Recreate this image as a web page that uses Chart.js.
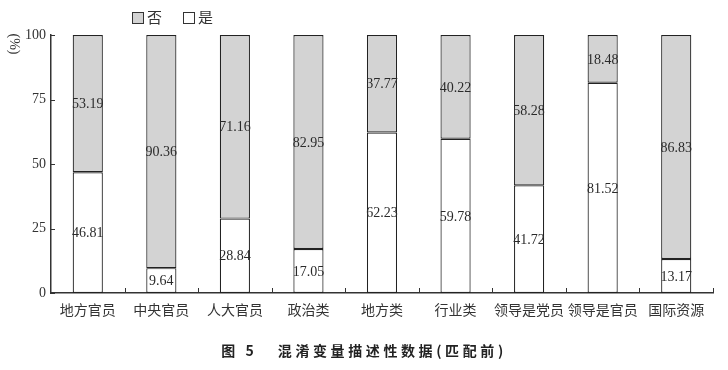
<!DOCTYPE html>
<html>
<head>
<meta charset="utf-8">
<script src="https://cdn.jsdelivr.net/npm/chart.js@4/dist/chart.umd.min.js"></script>
<style>
html,body{margin:0;padding:0;background:#fff;}
#wrap{position:relative;width:728px;height:370px;overflow:hidden;}
#c{position:absolute;left:0;top:0;}
.leg{position:absolute;top:8px;font-family:"Noto Sans CJK SC";font-size:15px;color:#333;line-height:17px;}
.box{position:absolute;width:10px;height:10px;border:1px solid #333;top:12px;}
#ytitle{position:absolute;left:2px;top:36px;width:24px;text-align:center;transform:rotate(90deg);font-family:"Liberation Serif";font-size:14px;color:#333;}
#cap{position:absolute;left:0;width:728px;top:340px;text-align:center;font-family:"Noto Sans CJK SC";font-weight:bold;font-size:14px;letter-spacing:3.6px;color:#222;}
</style>
</head>
<body>
<div id="wrap">
<canvas id="c" width="728" height="370"></canvas>
<div class="box" style="left:132px;background:#d3d3d3;"></div><div class="leg" style="left:147px;">否</div>
<div class="box" style="left:183px;background:#fff;"></div><div class="leg" style="left:198px;">是</div>
<div id="ytitle">(%)</div>
<div id="cap">图 5&nbsp;&nbsp;&nbsp;混淆变量描述性数据(匹配前)</div>
</div>
<script>
const categories = ["地方官员","中央官员","人大官员","政治类","地方类","行业类","领导是党员","领导是官员","国际资源"];
const yesValues = [46.81, 9.64, 28.84, 17.05, 62.23, 59.78, 41.72, 81.52, 13.17];
const noValues  = [53.19, 90.36, 71.16, 82.95, 37.77, 40.22, 58.28, 18.48, 86.83];
const yTicks = [0, 25, 50, 75, 100];

const insideTicks = {
  id: 'insideTicks',
  afterDraw(chart) {
    const ctx = chart.ctx;
    const x = chart.scales.x, y = chart.scales.y;
    const area = chart.chartArea;
    ctx.save();
    ctx.strokeStyle = '#333';
    ctx.lineWidth = 1;
    ctx.beginPath();
    yTicks.forEach(v => {
      const py = Math.round(y.getPixelForValue(v)) + 0.5;
      ctx.moveTo(area.left, py); ctx.lineTo(area.left + 4, py);
    });
    const n = categories.length;
    const step = x.getPixelForValue(1) - x.getPixelForValue(0);
    for (let i = 0; i < n; i++) {
      const px = Math.round(x.getPixelForValue(i) + step / 2) + 0.5;
      ctx.moveTo(px, area.bottom); ctx.lineTo(px, area.bottom - 5);
    }
    ctx.stroke();
    ctx.restore();
  }
};

const segLabels = {
  id: 'segLabels',
  afterDatasetsDraw(chart) {
    const ctx = chart.ctx;
    ctx.save();
    ctx.font = '14px "Liberation Serif"';
    ctx.fillStyle = '#2a2a2a';
    ctx.textAlign = 'center';
    ctx.textBaseline = 'middle';
    chart.data.datasets.forEach((ds, di) => {
      const meta = chart.getDatasetMeta(di);
      meta.data.forEach((bar, i) => {
        const mid = (bar.y + bar.base) / 2;
        ctx.fillText(ds.data[i].toFixed(2), bar.x, mid + 1);
      });
    });
    ctx.restore();
  }
};

new Chart(document.getElementById('c'), {
  type: 'bar',
  data: {
    labels: categories,
    datasets: [
      { label: '是', data: yesValues, backgroundColor: '#ffffff', borderColor: '#222', borderWidth: 1.2, borderSkipped: false, barPercentage: 0.41, categoryPercentage: 1 },
      { label: '否', data: noValues, backgroundColor: '#d3d3d3', borderColor: '#222', borderWidth: 1.2, borderSkipped: false, barPercentage: 0.41, categoryPercentage: 1 }
    ]
  },
  options: {
    responsive: false,
    animation: false,
    devicePixelRatio: 1,
    layout: { padding: { left: 0, right: 15, top: 35, bottom: 0 } },
    plugins: { legend: { display: false }, tooltip: { enabled: false } },
    scales: {
      x: {
        stacked: true,
        afterFit(axis) { axis.height = 77; },
        grid: { display: false, drawTicks: false },
        border: { display: true, color: '#333', width: 1.5 },
        ticks: { color: '#333', font: { family: '"Noto Sans CJK SC"', size: 14 }, padding: 8, maxRotation: 0, autoSkip: false }
      },
      y: {
        stacked: true,
        min: 0, max: 100,
        afterBuildTicks(axis) { axis.ticks = yTicks.map(v => ({ value: v })); },
        afterFit(axis) { axis.width = 51; },
        grid: { display: false, drawTicks: false },
        border: { display: true, color: '#333', width: 1.5 },
        ticks: { color: '#333', font: { family: '"Liberation Serif"', size: 14 }, padding: 5 }
      }
    }
  },
  plugins: [insideTicks, segLabels]
});
</script>
</body>
</html>
